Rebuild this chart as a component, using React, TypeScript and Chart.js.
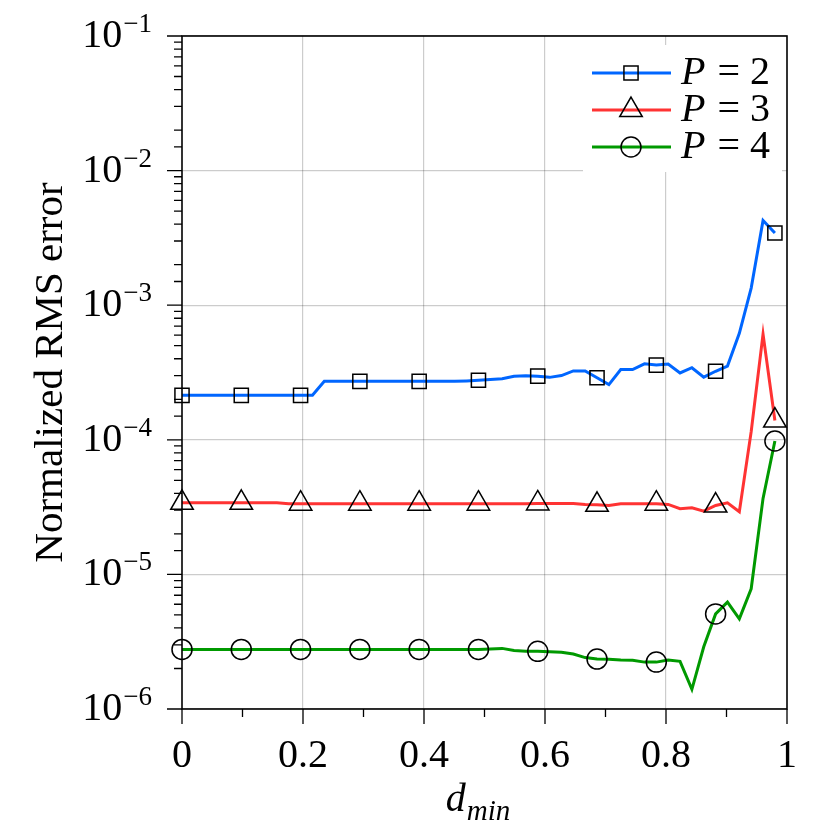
import { useEffect, useRef } from 'react'
import { Chart, registerables } from 'chart.js'
import { drawPoint } from 'chart.js/helpers'

Chart.register(...registerables)

// d_min sample positions (51 points, markers on every 5th)
const dMin = [
  0, 0.0196, 0.0392, 0.0588, 0.0784, 0.098, 0.1176, 0.1372, 0.1568, 0.1764,
  0.196, 0.2156, 0.2352, 0.2548, 0.2744, 0.294, 0.3136, 0.3332, 0.3528, 0.3724,
  0.392, 0.4116, 0.4312, 0.4508, 0.4704, 0.49, 0.5096, 0.5292, 0.5488, 0.5684,
  0.588, 0.6076, 0.6272, 0.6468, 0.6664, 0.686, 0.7056, 0.7252, 0.7448, 0.7644,
  0.784, 0.8036, 0.8232, 0.8428, 0.8624, 0.882, 0.9016, 0.9212, 0.9408, 0.9604,
  0.98,
]

const rmsP2 = [
  2.14e-4, 2.14e-4, 2.14e-4, 2.14e-4, 2.14e-4, 2.14e-4, 2.14e-4, 2.14e-4, 2.14e-4, 2.14e-4,
  2.14e-4, 2.14e-4, 2.72e-4, 2.72e-4, 2.72e-4, 2.72e-4, 2.72e-4, 2.72e-4, 2.72e-4, 2.72e-4,
  2.72e-4, 2.72e-4, 2.72e-4, 2.72e-4, 2.74e-4, 2.77e-4, 2.81e-4, 2.84e-4, 2.97e-4, 2.99e-4,
  2.97e-4, 2.91e-4, 3.0e-4, 3.25e-4, 3.25e-4, 2.89e-4, 2.57e-4, 3.33e-4, 3.33e-4, 3.67e-4,
  3.59e-4, 3.65e-4, 3.14e-4, 3.43e-4, 2.92e-4, 3.23e-4, 3.53e-4, 6.18e-4, 1.34e-3, 4.26e-3,
  3.44e-3,
]

const rmsP3 = [
  3.4e-5, 3.4e-5, 3.4e-5, 3.4e-5, 3.4e-5, 3.4e-5, 3.4e-5, 3.4e-5, 3.4e-5, 3.35e-5,
  3.35e-5, 3.35e-5, 3.35e-5, 3.35e-5, 3.35e-5, 3.35e-5, 3.35e-5, 3.35e-5, 3.35e-5, 3.35e-5,
  3.35e-5, 3.35e-5, 3.35e-5, 3.35e-5, 3.35e-5, 3.35e-5, 3.35e-5, 3.35e-5, 3.35e-5, 3.35e-5,
  3.37e-5, 3.37e-5, 3.37e-5, 3.37e-5, 3.31e-5, 3.29e-5, 3.25e-5, 3.35e-5, 3.35e-5, 3.35e-5,
  3.35e-5, 3.31e-5, 3.08e-5, 3.13e-5, 2.95e-5, 3.25e-5, 3.4e-5, 2.92e-5, 1.15e-4, 6.1e-4,
  1.39e-4,
]

const rmsP4 = [
  2.77e-6, 2.77e-6, 2.77e-6, 2.77e-6, 2.77e-6, 2.77e-6, 2.77e-6, 2.77e-6, 2.77e-6, 2.77e-6,
  2.77e-6, 2.77e-6, 2.77e-6, 2.77e-6, 2.77e-6, 2.77e-6, 2.77e-6, 2.77e-6, 2.77e-6, 2.77e-6,
  2.77e-6, 2.77e-6, 2.77e-6, 2.77e-6, 2.77e-6, 2.77e-6, 2.79e-6, 2.82e-6, 2.72e-6, 2.69e-6,
  2.68e-6, 2.66e-6, 2.64e-6, 2.56e-6, 2.41e-6, 2.35e-6, 2.34e-6, 2.31e-6, 2.3e-6, 2.23e-6,
  2.23e-6, 2.31e-6, 2.26e-6, 1.4e-6, 2.9e-6, 5.09e-6, 6.22e-6, 4.67e-6, 7.82e-6, 3.67e-5,
  9.8e-5,
]

const seriesLabels = ['P = 2', 'P = 3', 'P = 4']
const seriesColors = ['rgb(0,102,255)', 'rgb(255,51,51)', 'rgb(0,153,0)']
const seriesMarkers = ['rect', 'triangle', 'circle']
const markerRadius = [10, 13, 10]
const xTickLabels = ['0', '0.2', '0.4', '0.6', '0.8', '1']
const yTitle = 'Normalized RMS error'

const SERIF = '"Liberation Serif", "Times New Roman", serif'
const GRID = 'rgba(0,0,0,0.2)'

const isDecade = (v?: number) => {
  if (!v) return false
  const l = Math.log10(v)
  return Math.abs(l - Math.round(l)) < 1e-6
}

const axesPlugin = {
  id: 'axesDecor',
  afterDraw(chart: any) {
    const { ctx, chartArea: a, scales } = chart
    const xs = scales.x
    const ys = scales.y
    ctx.save()

    // frame
    ctx.strokeStyle = '#000'
    ctx.lineWidth = 1.6
    ctx.strokeRect(a.left, a.top, a.right - a.left, a.bottom - a.top)

    // ticks
    ctx.lineWidth = 1.3
    ctx.beginPath()
    xs.ticks.forEach((t: any, i: number) => {
      const px = xs.getPixelForValue(t.value)
      const len = i % 2 === 0 ? 15 : 8
      ctx.moveTo(px, a.bottom)
      ctx.lineTo(px, a.bottom + len)
    })
    ys.ticks.forEach((t: any) => {
      const py = ys.getPixelForValue(t.value)
      const len = isDecade(t.value) ? 15 : 8
      ctx.moveTo(a.left, py)
      ctx.lineTo(a.left - len, py)
    })
    ctx.stroke()

    // y tick labels 10^e
    ctx.fillStyle = '#000'
    ctx.textBaseline = 'alphabetic'
    ys.ticks.filter((t: any) => isDecade(t.value)).forEach((t: any) => {
      const py = ys.getPixelForValue(t.value)
      const exp = '\u2212' + Math.abs(Math.round(Math.log10(t.value)))
      ctx.font = `27px ${SERIF}`
      ctx.textAlign = 'right'
      const right = a.left - 30
      ctx.fillText(exp, right, py - 4)
      const wExp = ctx.measureText(exp).width
      ctx.font = `40px ${SERIF}`
      ctx.fillText('10', right - wExp - 1, py + 11)
    })

    // y title
    ctx.save()
    ctx.translate(62, (a.top + a.bottom) / 2)
    ctx.rotate(-Math.PI / 2)
    ctx.textAlign = 'center'
    ctx.font = `41px ${SERIF}`
    ctx.fillText(yTitle, 0, 0)
    ctx.restore()

    // x title d_min
    ctx.textAlign = 'left'
    ctx.font = `italic 40px ${SERIF}`
    const wd = ctx.measureText('d').width
    ctx.font = `italic 29px ${SERIF}`
    const ws = ctx.measureText('min').width
    const x0 = (a.left + a.right) / 2 - 7 - (wd + ws) / 2
    ctx.font = `italic 40px ${SERIF}`
    ctx.fillText('d', x0, 811)
    ctx.font = `italic 29px ${SERIF}`
    ctx.fillText('min', x0 + wd + 1, 820)

    // legend
    ctx.fillStyle = '#fff'
    ctx.fillRect(583, 45, 199, 127)
    chart.data.datasets.forEach((ds: any, i: number) => {
      const ly = 73 + i * 37
      ctx.strokeStyle = ds.borderColor
      ctx.lineWidth = 3
      ctx.beginPath()
      ctx.moveTo(592, ly)
      ctx.lineTo(671, ly)
      ctx.stroke()
      ctx.strokeStyle = '#000'
      ctx.fillStyle = 'rgba(0,0,0,0)'
      ctx.lineWidth = 1.5
      drawPoint(ctx, { pointStyle: ds.pointStyle, radius: markerRadius[i], borderWidth: 1.5, rotation: 0 }, 631, ly)
      ctx.fillStyle = '#000'
      ctx.textAlign = 'left'
      const label: string = ds.label
      ctx.font = `italic 40px ${SERIF}`
      ctx.fillText(label.charAt(0), 681, ly + 11)
      const wp = ctx.measureText(label.charAt(0)).width
      ctx.font = `40px ${SERIF}`
      ctx.fillText(label.slice(1), 681 + wp + 2, ly + 11)
    })

    ctx.restore()
  },
}

export default function App() {
  const canvasRef = useRef<HTMLCanvasElement>(null)

  useEffect(() => {
    const canvas = canvasRef.current
    if (!canvas) return
    const series = [rmsP2, rmsP3, rmsP4]
    const chart = new Chart(canvas, {
      type: 'line',
      data: {
        datasets: series.map((vals, i) => ({
          label: seriesLabels[i],
          data: dMin.map((d, k) => ({ x: d, y: vals[k] })),
          borderColor: seriesColors[i],
          borderWidth: 3,
          tension: 0,
          fill: false,
          clip: false,
          pointStyle: seriesMarkers[i],
          pointRadius: (c: any) => (c.dataIndex % 5 === 0 ? markerRadius[i] : 0),
          pointBorderColor: '#000',
          pointBackgroundColor: 'rgba(0,0,0,0)',
          pointBorderWidth: 1.5,
        })),
      },
      options: {
        animation: false,
        responsive: true,
        maintainAspectRatio: false,
        events: [],
        layout: { padding: { top: 36, right: 43, bottom: 0, left: 0 } },
        plugins: { legend: { display: false }, tooltip: { enabled: false } },
        scales: {
          x: {
            type: 'linear',
            min: 0,
            max: 1,
            afterFit: (s: any) => { s.height = 121 },
            ticks: {
              stepSize: 0.1,
              autoSkip: false,
              maxRotation: 0,
              padding: 23,
              color: '#000',
              font: { family: SERIF, size: 40 },
              callback: (_v: any, i: number) => (i % 2 === 0 ? xTickLabels[i / 2] : ''),
            },
            grid: {
              drawTicks: false,
              lineWidth: 1.2,
              color: (c: any) => (c.index % 2 === 0 && c.index > 0 && c.index < 10 ? GRID : 'rgba(0,0,0,0)'),
            },
            border: { display: false },
          },
          y: {
            type: 'logarithmic',
            min: 1e-6,
            max: 1e-1,
            afterFit: (s: any) => { s.width = 182 },
            ticks: { display: false },
            grid: {
              drawTicks: false,
              lineWidth: 1.2,
              color: (c: any) => (isDecade(c.tick && c.tick.value) ? GRID : 'rgba(0,0,0,0)'),
            },
            border: { display: false },
          },
        },
      } as any,
      plugins: [axesPlugin],
    })
    return () => chart.destroy()
  }, [])

  return (
    <div style={{ position: 'fixed', left: 0, top: 0, width: 830, height: 830, background: '#fff' }}>
      <canvas ref={canvasRef} />
    </div>
  )
}
